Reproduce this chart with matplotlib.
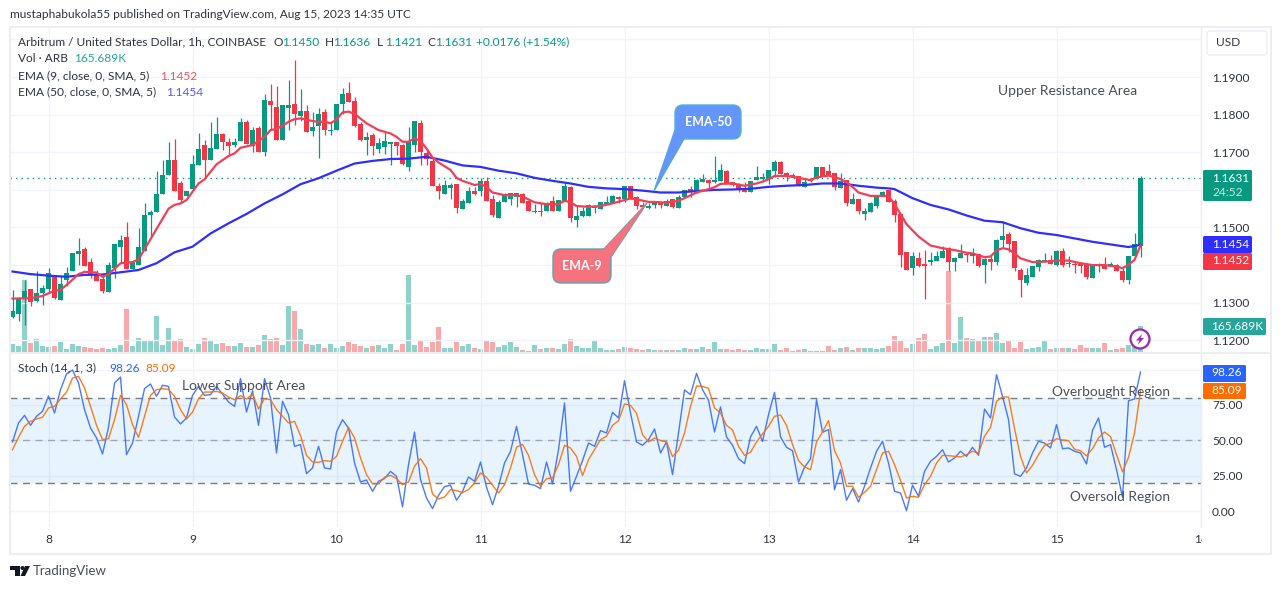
import matplotlib
matplotlib.use("Agg")
import matplotlib.pyplot as plt
from matplotlib.patches import Circle, FancyBboxPatch, Polygon, Rectangle
from matplotlib.transforms import Bbox

plt.rcParams['font.family'] = ['Lato', 'DejaVu Sans']

W, H = 1281, 589
UP = '#089981'
DOWN = '#f23645'
GRID = '#f0f3fa'
FRAME = '#eceef4'
TEXT = '#2f333d'
NOTE = '#4a4e58'

# hourly bars, first one is Aug 7 18:00
bar_open = [
    1.1262, 1.1270, 1.1313, 1.1336, 1.1305, 1.1325, 1.1337, 1.1368, 1.1308, 1.1360,
    1.1384, 1.1430, 1.1443, 1.1408, 1.1376, 1.1364, 1.1329, 1.1393, 1.1448, 1.1474,
    1.1390, 1.1400, 1.1437, 1.1533, 1.1540, 1.1589, 1.1639, 1.1679, 1.1617, 1.1584,
    1.1602, 1.1666, 1.1719, 1.1679, 1.1709, 1.1748, 1.1727, 1.1719, 1.1730, 1.1780,
    1.1717, 1.1764, 1.1702, 1.1836, 1.1820, 1.1733, 1.1818, 1.1828, 1.1796, 1.1809,
    1.1757, 1.1770, 1.1807, 1.1757, 1.1759, 1.1828, 1.1857, 1.1835, 1.1774, 1.1733,
    1.1746, 1.1709, 1.1715, 1.1723, 1.1727, 1.1719, 1.1661, 1.1720, 1.1779, 1.1697,
    1.1676, 1.1610, 1.1589, 1.1606, 1.1616, 1.1549, 1.1565, 1.1596, 1.1597, 1.1624,
    1.1576, 1.1526, 1.1568, 1.1576, 1.1582, 1.1588, 1.1571, 1.1541, 1.1544, 1.1544,
    1.1571, 1.1544, 1.1570, 1.1608, 1.1520, 1.1531, 1.1531, 1.1551, 1.1549, 1.1562,
    1.1564, 1.1580, 1.1576, 1.1610, 1.1581, 1.1559, 1.1552, 1.1559, 1.1565, 1.1557,
    1.1575, 1.1552, 1.1581, 1.1602, 1.1593, 1.1621, 1.1626, 1.1621, 1.1623, 1.1649,
    1.1620, 1.1615, 1.1600, 1.1595, 1.1626, 1.1629, 1.1629, 1.1650, 1.1674, 1.1644,
    1.1639, 1.1637, 1.1608, 1.1628, 1.1630, 1.1661, 1.1649, 1.1644, 1.1606, 1.1625,
    1.1563, 1.1576, 1.1537, 1.1541, 1.1557, 1.1584, 1.1600, 1.1571, 1.1536, 1.1435,
    1.1393, 1.1419, 1.1402, 1.1408, 1.1410, 1.1419, 1.1445, 1.1408, 1.1419, 1.1430,
    1.1423, 1.1429, 1.1400, 1.1416, 1.1407, 1.1467, 1.1483, 1.1464, 1.1387, 1.1352,
    1.1369, 1.1396, 1.1411, 1.1414, 1.1401, 1.1438, 1.1402, 1.1403, 1.1402, 1.1400,
    1.1367, 1.1400, 1.1400, 1.1397, 1.1400, 1.1385, 1.1361, 1.1423, 1.1450,
]
bar_high = [
    1.1334, 1.1316, 1.1360, 1.1336, 1.1385, 1.1347, 1.1392, 1.1369, 1.1375, 1.1396,
    1.1433, 1.1471, 1.1449, 1.1418, 1.1387, 1.1374, 1.1407, 1.1456, 1.1480, 1.1514,
    1.1409, 1.1498, 1.1564, 1.1546, 1.1651, 1.1679, 1.1726, 1.1735, 1.1624, 1.1597,
    1.1693, 1.1750, 1.1733, 1.1781, 1.1795, 1.1750, 1.1739, 1.1739, 1.1790, 1.1786,
    1.1766, 1.1770, 1.1855, 1.1881, 1.1877, 1.1825, 1.1892, 1.1945, 1.1867, 1.1825,
    1.1808, 1.1817, 1.1814, 1.1777, 1.1828, 1.1870, 1.1887, 1.1846, 1.1781, 1.1753,
    1.1752, 1.1737, 1.1755, 1.1727, 1.1727, 1.1721, 1.1768, 1.1783, 1.1787, 1.1708,
    1.1686, 1.1617, 1.1626, 1.1617, 1.1616, 1.1577, 1.1608, 1.1608, 1.1631, 1.1635,
    1.1586, 1.1573, 1.1591, 1.1591, 1.1591, 1.1593, 1.1575, 1.1562, 1.1564, 1.1568,
    1.1584, 1.1573, 1.1617, 1.1610, 1.1557, 1.1555, 1.1562, 1.1557, 1.1568, 1.1584,
    1.1586, 1.1584, 1.1610, 1.1610, 1.1584, 1.1568, 1.1564, 1.1571, 1.1568, 1.1577,
    1.1577, 1.1586, 1.1599, 1.1610, 1.1628, 1.1642, 1.1628, 1.1690, 1.1670, 1.1654,
    1.1622, 1.1619, 1.1622, 1.1624, 1.1663, 1.1644, 1.1653, 1.1679, 1.1677, 1.1648,
    1.1646, 1.1637, 1.1628, 1.1631, 1.1661, 1.1661, 1.1670, 1.1644, 1.1644, 1.1626,
    1.1591, 1.1576, 1.1551, 1.1568, 1.1586, 1.1598, 1.1601, 1.1577, 1.1536, 1.1435,
    1.1436, 1.1436, 1.1440, 1.1435, 1.1438, 1.1451, 1.1449, 1.1422, 1.1456, 1.1431,
    1.1445, 1.1429, 1.1418, 1.1427, 1.1470, 1.1517, 1.1488, 1.1464, 1.1393, 1.1393,
    1.1398, 1.1416, 1.1431, 1.1427, 1.1439, 1.1445, 1.1423, 1.1409, 1.1407, 1.1405,
    1.1401, 1.1405, 1.1421, 1.1409, 1.1403, 1.1392, 1.1424, 1.1485, 1.1636,
]
bar_low = [
    1.1260, 1.1251, 1.1241, 1.1291, 1.1303, 1.1294, 1.1327, 1.1311, 1.1308, 1.1344,
    1.1384, 1.1400, 1.1397, 1.1366, 1.1358, 1.1327, 1.1329, 1.1366, 1.1405, 1.1390,
    1.1390, 1.1400, 1.1437, 1.1476, 1.1540, 1.1589, 1.1639, 1.1597, 1.1564, 1.1584,
    1.1602, 1.1666, 1.1631, 1.1679, 1.1709, 1.1706, 1.1693, 1.1713, 1.1730, 1.1723,
    1.1702, 1.1702, 1.1690, 1.1763, 1.1733, 1.1733, 1.1759, 1.1772, 1.1784, 1.1755,
    1.1744, 1.1684, 1.1746, 1.1746, 1.1759, 1.1803, 1.1834, 1.1766, 1.1731, 1.1693,
    1.1693, 1.1697, 1.1695, 1.1666, 1.1693, 1.1665, 1.1651, 1.1702, 1.1666, 1.1666,
    1.1610, 1.1577, 1.1589, 1.1576, 1.1539, 1.1549, 1.1565, 1.1586, 1.1584, 1.1571,
    1.1527, 1.1526, 1.1568, 1.1560, 1.1554, 1.1566, 1.1544, 1.1539, 1.1531, 1.1544,
    1.1544, 1.1544, 1.1570, 1.1515, 1.1502, 1.1529, 1.1531, 1.1539, 1.1549, 1.1562,
    1.1564, 1.1566, 1.1568, 1.1576, 1.1548, 1.1554, 1.1548, 1.1553, 1.1553, 1.1557,
    1.1552, 1.1552, 1.1581, 1.1582, 1.1593, 1.1621, 1.1604, 1.1617, 1.1623, 1.1617,
    1.1611, 1.1594, 1.1595, 1.1595, 1.1626, 1.1622, 1.1615, 1.1635, 1.1642, 1.1624,
    1.1633, 1.1611, 1.1608, 1.1622, 1.1630, 1.1637, 1.1637, 1.1600, 1.1606, 1.1557,
    1.1563, 1.1537, 1.1520, 1.1541, 1.1553, 1.1584, 1.1568, 1.1515, 1.1396, 1.1387,
    1.1374, 1.1396, 1.1310, 1.1400, 1.1410, 1.1419, 1.1384, 1.1384, 1.1419, 1.1409,
    1.1405, 1.1396, 1.1352, 1.1387, 1.1401, 1.1449, 1.1436, 1.1385, 1.1316, 1.1347,
    1.1369, 1.1385, 1.1411, 1.1403, 1.1398, 1.1396, 1.1396, 1.1378, 1.1378, 1.1363,
    1.1367, 1.1381, 1.1390, 1.1397, 1.1385, 1.1356, 1.1350, 1.1423, 1.1421,
]
bar_close = [
    1.1278, 1.1309, 1.1330, 1.1303, 1.1326, 1.1339, 1.1379, 1.1312, 1.1350, 1.1379,
    1.1433, 1.1437, 1.1397, 1.1374, 1.1358, 1.1331, 1.1399, 1.1456, 1.1468, 1.1390,
    1.1409, 1.1448, 1.1533, 1.1542, 1.1589, 1.1639, 1.1679, 1.1597, 1.1573, 1.1597,
    1.1669, 1.1709, 1.1679, 1.1711, 1.1748, 1.1728, 1.1717, 1.1727, 1.1780, 1.1723,
    1.1759, 1.1702, 1.1839, 1.1826, 1.1733, 1.1825, 1.1825, 1.1802, 1.1809, 1.1755,
    1.1766, 1.1803, 1.1759, 1.1759, 1.1828, 1.1855, 1.1834, 1.1770, 1.1733, 1.1740,
    1.1717, 1.1725, 1.1730, 1.1727, 1.1717, 1.1669, 1.1730, 1.1783, 1.1702, 1.1681,
    1.1610, 1.1597, 1.1613, 1.1613, 1.1552, 1.1570, 1.1597, 1.1588, 1.1624, 1.1571,
    1.1533, 1.1568, 1.1586, 1.1591, 1.1591, 1.1566, 1.1544, 1.1544, 1.1540, 1.1564,
    1.1544, 1.1573, 1.1610, 1.1526, 1.1531, 1.1544, 1.1560, 1.1557, 1.1568, 1.1568,
    1.1584, 1.1577, 1.1610, 1.1576, 1.1558, 1.1555, 1.1556, 1.1566, 1.1559, 1.1570,
    1.1554, 1.1580, 1.1599, 1.1598, 1.1625, 1.1629, 1.1618, 1.1625, 1.1653, 1.1617,
    1.1614, 1.1600, 1.1595, 1.1623, 1.1634, 1.1633, 1.1653, 1.1674, 1.1642, 1.1635,
    1.1633, 1.1611, 1.1621, 1.1624, 1.1661, 1.1637, 1.1640, 1.1607, 1.1623, 1.1565,
    1.1575, 1.1543, 1.1544, 1.1564, 1.1583, 1.1594, 1.1568, 1.1533, 1.1427, 1.1387,
    1.1424, 1.1398, 1.1398, 1.1414, 1.1424, 1.1437, 1.1408, 1.1419, 1.1432, 1.1427,
    1.1430, 1.1398, 1.1416, 1.1407, 1.1467, 1.1478, 1.1456, 1.1393, 1.1361, 1.1374,
    1.1398, 1.1414, 1.1414, 1.1403, 1.1438, 1.1400, 1.1405, 1.1400, 1.1398, 1.1368,
    1.1401, 1.1401, 1.1390, 1.1402, 1.1385, 1.1361, 1.1423, 1.1456, 1.1631,
]
volume_k = [
    49, 37, 467, 56, 82, 37, 32, 37, 62, 17,
    49, 37, 32, 24, 17, 24, 17, 24, 43, 275,
    37, 88, 69, 69, 230, 43, 153, 69, 82, 32,
    22, 49, 88, 75, 49, 56, 37, 37, 56, 30,
    30, 43, 108, 82, 88, 43, 295, 262, 146, 49,
    43, 49, 26, 52, 26, 39, 65, 52, 39, 26,
    39, 45, 26, 52, 13, 52, 497, 45, 77, 32,
    65, 161, 26, 26, 65, 39, 52, 26, 19, 71,
    65, 32, 45, 65, 32, 13, 6, 45, 19, 26,
    26, 19, 52, 84, 39, 26, 26, 71, 26, 13,
    13, 19, 32, 26, 19, 13, 19, 13, 13, 13,
    13, 13, 26, 19, 19, 32, 19, 65, 19, 19,
    13, 19, 13, 13, 26, 19, 19, 52, 13, 26,
    6, 13, 19, 6, 6, 6, 39, 13, 26, 32,
    13, 26, 26, 26, 19, 26, 39, 103, 71, 26,
    52, 90, 116, 19, 39, 58, 522, 58, 228, 90,
    84, 77, 97, 97, 123, 58, 71, 26, 65, 19,
    26, 32, 77, 19, 26, 26, 26, 19, 45, 26,
    26, 26, 58, 13, 19, 26, 45, 39, 165.689,
]
stoch_k = [
    48.9, 62.3, 67.7, 60.6, 67.0, 70.5, 81.3, 69.3, 85.8, 96.9,
    99.7, 90.5, 71.7, 58.7, 51.7, 40.4, 59.2, 90.5, 94.7, 39.9,
    48.1, 67.0, 86.5, 89.8, 81.1, 88.9, 88.1, 66.5, 61.6, 65.8,
    81.8, 88.1, 81.8, 82.3, 88.1, 82.7, 77.1, 74.0, 93.6, 70.0,
    85.1, 60.6, 93.6, 79.9, 41.1, 77.6, 68.1, 45.8, 47.0, 26.5,
    30.5, 45.8, 30.5, 29.8, 55.9, 64.6, 58.7, 34.0, 20.6, 22.0,
    14.0, 21.1, 23.0, 28.1, 24.6, 3.0, 32.9, 55.9, 22.3, 9.3,
    1.8, 11.2, 17.3, 18.3, 7.7, 14.0, 24.1, 21.1, 34.7, 16.9,
    4.6, 17.6, 34.0, 42.3, 59.9, 39.9, 19.2, 18.3, 15.9, 34.7,
    19.2, 43.4, 76.4, 14.0, 24.6, 35.7, 48.1, 45.8, 56.9, 55.2,
    69.8, 65.8, 92.1, 69.3, 48.9, 46.5, 50.5, 58.0, 41.1, 48.9,
    25.8, 55.2, 85.6, 82.3, 97.3, 85.8, 78.3, 55.9, 73.6, 52.4,
    46.5, 37.1, 33.6, 52.4, 59.9, 49.3, 68.1, 83.9, 52.4, 45.1,
    42.7, 20.6, 31.0, 36.9, 78.7, 55.7, 57.6, 15.2, 29.3, 7.7,
    15.9, 6.5, 17.6, 30.5, 42.3, 49.3, 34.0, 14.0, 12.8, 0.4,
    18.3, 10.5, 28.1, 35.2, 38.7, 43.4, 34.7, 37.6, 42.3, 38.7,
    45.1, 39.4, 72.1, 65.8, 96.4, 81.1, 64.6, 26.3, 24.6, 30.5,
    41.1, 49.3, 48.1, 44.6, 61.1, 44.1, 44.6, 42.3, 41.1, 33.3,
    57.1, 65.8, 45.1, 47.0, 29.3, 9.8, 78.0, 79.2, 98.26,
]
stoch_d = [
    43.4, 52.1, 59.9, 63.4, 65.1, 66.3, 72.9, 74.0, 79.2, 84.1,
    94.0, 95.2, 87.0, 74.0, 60.6, 50.5, 51.2, 64.6, 81.8, 75.2,
    61.1, 52.1, 67.0, 81.8, 85.8, 86.5, 86.0, 81.1, 71.7, 65.1,
    70.0, 79.4, 84.1, 84.1, 84.6, 83.4, 80.6, 78.7, 81.6, 79.2,
    82.7, 72.1, 79.4, 78.7, 71.7, 67.0, 62.3, 63.4, 53.3, 39.4,
    34.7, 34.5, 35.7, 35.2, 38.7, 49.3, 59.2, 51.7, 37.6, 25.8,
    19.2, 19.4, 23.9, 25.3, 23.0, 18.7, 20.6, 31.7, 37.1, 30.5,
    12.1, 8.6, 10.0, 15.2, 14.5, 13.1, 15.2, 19.9, 27.0, 23.9,
    18.3, 12.8, 18.7, 30.5, 45.1, 47.2, 39.4, 25.8, 17.6, 23.0,
    23.4, 32.9, 46.5, 44.6, 38.7, 25.1, 36.4, 43.4, 50.5, 52.9,
    60.6, 63.9, 75.7, 74.7, 69.1, 54.0, 48.9, 51.7, 49.8, 48.9,
    38.5, 43.0, 55.2, 74.0, 88.4, 88.1, 86.7, 72.9, 69.3, 60.6,
    57.3, 45.8, 39.4, 41.6, 48.9, 54.5, 59.9, 67.0, 67.9, 60.6,
    47.0, 35.7, 31.2, 29.3, 48.9, 55.9, 63.9, 42.7, 34.0, 17.6,
    17.6, 9.8, 13.3, 17.6, 29.3, 41.1, 42.3, 32.9, 21.6, 9.3,
    10.5, 9.8, 18.7, 24.6, 34.0, 39.4, 39.2, 38.7, 38.3, 39.9,
    42.3, 41.1, 52.9, 59.2, 77.6, 80.6, 80.6, 58.3, 38.7, 27.0,
    32.4, 39.9, 46.5, 47.9, 51.2, 50.3, 49.8, 43.7, 42.7, 39.0,
    44.1, 51.7, 55.9, 52.6, 39.9, 27.7, 38.0, 55.2, 85.09,
]

# moving averages, read at the bars listed next to them
ema50_bars = [
    0, 3, 6, 9, 12, 15, 18, 21, 24, 27, 30, 33, 36, 39, 42, 45, 48, 51, 54, 57,
    60, 63, 66, 69, 72, 75, 78, 81, 84, 87, 90, 93, 96, 99, 102, 105, 108, 111,
    114, 117, 120, 123, 126, 129, 132, 135, 138, 141, 144, 146, 147, 150, 153,
    156, 159, 162, 165, 168, 171, 174, 177, 180, 183, 186, 187, 188,
]
ema50 = [
    1.1383, 1.1376, 1.1372, 1.1369, 1.1374, 1.1375, 1.1381, 1.1387, 1.1405, 1.1434,
    1.1449, 1.1484, 1.1511, 1.1536, 1.1564, 1.1588, 1.1615, 1.1631, 1.1651, 1.1670,
    1.1677, 1.1682, 1.1683, 1.1688, 1.1678, 1.1665, 1.1661, 1.1651, 1.1644, 1.1632,
    1.1624, 1.1617, 1.1608, 1.1604, 1.1602, 1.1598, 1.1593, 1.1593, 1.1597, 1.1600,
    1.1601, 1.1603, 1.1608, 1.1611, 1.1613, 1.1617, 1.1617, 1.1611, 1.1606, 1.1604,
    1.1602, 1.1578, 1.1560, 1.1548, 1.1532, 1.1518, 1.1514, 1.1498, 1.1486, 1.1480,
    1.1471, 1.1462, 1.1455, 1.1448, 1.1451, 1.1454,
]
ema9_bars = [
    0, 3, 5, 7, 8, 9, 11, 12, 14, 15, 16, 17, 18, 20, 21, 22, 24, 26, 27, 28,
    29, 30, 31, 32, 33, 34, 36, 37, 38, 40, 42, 43, 44, 45, 46, 47, 48, 50, 51, 52,
    53, 54, 55, 56, 57, 59, 61, 63, 64, 65, 66, 67, 68, 69, 70, 71, 73, 74, 75, 77,
    78, 79, 80, 82, 84, 85, 87, 89, 91, 92, 93, 94, 96, 98, 100, 102, 103, 104, 106,
    107, 109, 111, 112, 114, 116, 117, 118, 120, 122, 124, 125, 126, 127, 129, 131,
    133, 134, 136, 138, 139, 140, 141, 143, 145, 146, 147, 148, 149, 151, 153, 155,
    157, 159, 160, 162, 163, 164, 165, 166, 167, 168, 170, 172, 174, 176, 178, 180,
    182, 184, 185, 186, 187, 188,
]
ema9 = [
    1.1311, 1.1312, 1.1318, 1.1332, 1.1334, 1.1347, 1.1376, 1.1382, 1.1380, 1.1369,
    1.1376, 1.1390, 1.1405, 1.1408, 1.1415, 1.1442, 1.1496, 1.1550, 1.1560, 1.1564,
    1.1573, 1.1595, 1.1617, 1.1628, 1.1648, 1.1668, 1.1690, 1.1697, 1.1712, 1.1719,
    1.1741, 1.1759, 1.1762, 1.1770, 1.1781, 1.1788, 1.1790, 1.1783, 1.1781, 1.1781,
    1.1777, 1.1787, 1.1806, 1.1808, 1.1802, 1.1777, 1.1759, 1.1750, 1.1741, 1.1728,
    1.1728, 1.1737, 1.1730, 1.1710, 1.1686, 1.1673, 1.1653, 1.1632, 1.1624, 1.1613,
    1.1616, 1.1608, 1.1593, 1.1586, 1.1586, 1.1582, 1.1567, 1.1562, 1.1562, 1.1571,
    1.1567, 1.1557, 1.1555, 1.1557, 1.1564, 1.1573, 1.1577, 1.1575, 1.1568,
    1.1568, 1.1566, 1.1571, 1.1578, 1.1593, 1.1602, 1.1607, 1.1616, 1.1617, 1.1611,
    1.1617, 1.1622, 1.1628, 1.1637, 1.1637, 1.1632,
    1.1626, 1.1633, 1.1638, 1.1629, 1.1620, 1.1608, 1.1593, 1.1584, 1.1584, 1.1584,
    1.1562, 1.1536, 1.1509, 1.1476, 1.1452, 1.1445,
    1.1440, 1.1433, 1.1431, 1.1421, 1.1423, 1.1439, 1.1445, 1.1442, 1.1431, 1.1418,
    1.1408, 1.1409, 1.1412, 1.1412, 1.1405, 1.1400,
    1.1400, 1.1396, 1.1392, 1.1401, 1.1414, 1.1452,
]

day_labels = ['8', '9', '10', '11', '12', '13', '14', '15', '16']
price_ticks = [1.12, 1.13, 1.14, 1.15, 1.16, 1.17, 1.18, 1.19, 1.20]
price_tick_labels = ['1.1200', '1.1300', '', '1.1500', '', '1.1700', '1.1800', '1.1900', '']
stoch_ticks = [0, 25, 50, 75, 100]
stoch_tick_labels = ['0.00', '25.00', '50.00', '75.00', '']
last_close = 1.1631


def px_axes(left, top, right, bottom):
    return [left / W, 1 - bottom / H, (right - left) / W, (bottom - top) / H]


fig = plt.figure(figsize=(W / 100, H / 100), dpi=100, facecolor='white')

hours = [i - 6 for i in range(len(bar_close))]   # hours since Aug 8 00:00
day_ticks = [24 * i for i in range(len(day_labels))]
xlim = (-6.42, 192.08)

# price panel
ax_vol = fig.add_axes(px_axes(10, 27, 1201, 352))
ax = fig.add_axes(px_axes(10, 27, 1201, 352), sharex=ax_vol)
ax.patch.set_alpha(0)
ax_vol.set_zorder(1)
ax.set_zorder(2)

rising = [c >= o for o, c in zip(bar_open, bar_close)]
ax_vol.bar(hours, volume_k, width=0.84, linewidth=0,
           color=['#8fd2c9' if r else '#f8a9ac' for r in rising])
ax_vol.set_ylim(0, 2097)
ax_vol.set_yticks([])
ax_vol.tick_params(bottom=False, labelbottom=False)
for s in ax_vol.spines.values():
    s.set_visible(False)

colors = [UP if r else DOWN for r in rising]
ax.vlines(hours, bar_low, bar_high, colors=colors, linewidth=0.9, zorder=3)
ax.bar(hours, [abs(c - o) for o, c in zip(bar_open, bar_close)],
       bottom=[min(o, c) for o, c in zip(bar_open, bar_close)],
       width=0.84, color=colors, linewidth=0, zorder=4)
ax.plot([b - 6 for b in ema50_bars], ema50, color='#2e2eff', lw=1.6, zorder=5)
ax.plot([b - 6 for b in ema9_bars], ema9, color='#f23f55', lw=1.6, zorder=6)
ax.axhline(last_close, color=UP, lw=1, ls=(0, (1, 3)), zorder=2)

ax.set_xlim(*xlim)
ax.set_ylim(1.1169, 1.2033)
ax.set_yticks(price_ticks, price_tick_labels)
ax.yaxis.tick_right()
ax.tick_params(axis='y', length=0, labelsize=8.6, labelcolor=TEXT, pad=8)
ax.tick_params(axis='x', bottom=False, labelbottom=False)
ax.set_xticks(day_ticks)
ax.grid(True, color=GRID, lw=1, zorder=0)
ax.set_axisbelow(True)
ax_vol.set_xlim(*xlim)
for s in ax.spines.values():
    s.set_visible(False)

# stochastic panel
ax2 = fig.add_axes(px_axes(10, 353, 1201, 527))
ax2.axhspan(20, 80, color='#2196f3', alpha=0.1, lw=0, zorder=1)
ax2.axhline(80, color='#787b86', lw=1, ls=(0, (5, 4)), zorder=2)
ax2.axhline(50, color='#787b86', lw=1, ls=(0, (5, 4)), alpha=0.6, zorder=2)
ax2.axhline(20, color='#787b86', lw=1, ls=(0, (5, 4)), zorder=2)
ax2.plot(hours, stoch_k, color='#2962ff', lw=1, alpha=0.85, zorder=3)
ax2.plot(hours, stoch_d, color='#ff6d00', lw=1, alpha=0.9, zorder=4)
ax2.set_xlim(*xlim)
ax2.set_ylim(-11.2, 111.7)
ax2.set_yticks(stoch_ticks, stoch_tick_labels)
ax2.yaxis.tick_right()
ax2.tick_params(axis='y', length=0, labelsize=8.6, labelcolor=TEXT, pad=8)
ax2.set_xticks(day_ticks, day_labels)
ax2.tick_params(axis='x', length=0, labelsize=8.6, labelcolor=TEXT, pad=5)
ax2.grid(True, color=GRID, lw=1, zorder=0)
ax2.set_axisbelow(True)
for s in ax2.spines.values():
    s.set_visible(False)
# the time axis cuts its last label off at the price scale
for lbl in ax2.get_xticklabels():
    lbl.set_clip_box(Bbox.from_extents(0, 0, 1202, H))
    lbl.set_clip_on(True)

# everything around the panels, in image pixels
ov = fig.add_axes([0, 0, 1, 1], zorder=10)
ov.set_xlim(0, W)
ov.set_ylim(H, 0)
ov.axis('off')


def label(x, y, s, color=TEXT, size=8.6, ha='left', **kw):
    ov.text(x, y, s, color=color, fontsize=size, ha=ha, va='center', **kw)


def price_box(x0, y0, x1, y1, color):
    ov.add_patch(FancyBboxPatch((x0 + 1, y0 + 1), x1 - x0 - 2, y1 - y0 - 2,
                                boxstyle='round,pad=1,rounding_size=1.5',
                                fc=color, ec='none', zorder=3))


def callout(box, tail, fill, edge, text):
    x0, y0, x1, y1 = box
    ov.add_patch(Polygon(tail, closed=True, fc=fill, ec=edge, lw=1, zorder=4))
    ov.add_patch(FancyBboxPatch((x0 + 8, y0 + 8), x1 - x0 - 16, y1 - y0 - 16,
                                boxstyle='round,pad=8,rounding_size=8',
                                fc=fill, ec=edge, lw=1, zorder=4))
    ov.add_patch(Polygon(tail, closed=True, fc=fill, ec='none', zorder=4))
    label((x0 + x1) / 2, (y0 + y1) / 2, text, color='white', size=9, ha='center',
          zorder=5, fontweight='bold')


ov.add_patch(Rectangle((9.5, 26.5), 1261, 527, fc='none', ec=FRAME, lw=1.5))
ov.add_line(plt.Line2D([10, 1270], [352.5, 352.5], color=FRAME, lw=1.5))
ov.add_line(plt.Line2D([1201, 1201], [27, 527], color=FRAME, lw=1))

label(10, 15, 'mustaphabukola55 published on TradingView.com, Aug 15, 2023 14:35 UTC')

label(18, 42, 'Arbitrum / United States Dollar, 1h, COINBASE')
for x, name, val in [(274, 'O', '1.1450'), (325, 'H', '1.1636'),
                     (377, 'L', '1.1421'), (427, 'C', '1.1631')]:
    label(x, 42, name)
    label(x + 8, 42, val, color=UP)
label(476, 42, '+0.0176 (+1.54%)', color=UP)
label(18, 59, 'Vol · ARB')
label(74, 59, '165.689K', color='#26a69a')
label(18, 76, 'EMA (9, close, 0, SMA, 5)')
label(160, 76, '1.1452', color='#f4515f')
label(18, 92, 'EMA (50, close, 0, SMA, 5)')
label(166, 92, '1.1454', color='#5555ff')
label(18, 368, 'Stoch (14, 1, 3)')
label(109, 368, '98.26', color='#2962ff')
label(145, 368, '85.09', color='#ff6d00')

label(998, 91, 'Upper Resistance Area', color=NOTE, size=10)
label(182, 386, 'Lower Support Area', color=NOTE, size=10)
label(1170, 392, 'Overbought Region', color=NOTE, size=9.8, ha='right')
label(1170, 497, 'Oversold Region', color=NOTE, size=9.8, ha='right')

callout((675, 105, 741, 139), [(675, 130), (654, 191), (684, 139)],
        '#6495fb', '#55b4c8', 'EMA-50')
callout((553, 249, 611, 283), [(603, 250), (647, 203), (611, 257)],
        '#f5737f', '#5aa5b0', 'EMA-9')

ov.add_patch(FancyBboxPatch((1209, 33), 56, 20, boxstyle='round,pad=2,rounding_size=3',
                            fc='white', ec=FRAME, lw=1))
label(1216, 43, 'USD')

price_box(1203, 170, 1252, 201, UP)
label(1212, 178, '1.1631', color='white')
label(1212, 193, '24:52', color='#c8e8e2')
price_box(1203, 236, 1252, 253, '#2e2eff')
label(1212, 245, '1.1454', color='white')
price_box(1203, 253, 1252, 270, DOWN)
label(1212, 261, '1.1452', color='white')
price_box(1203, 318, 1266, 335, '#26a69a')
label(1211, 326, '165.689K', color='white')
price_box(1203, 365, 1246, 382, '#2962ff')
label(1211, 373, '98.26', color='white')
price_box(1203, 383, 1246, 399, '#ff6d00')
label(1211, 391, '85.09', color='white')

ov.add_patch(Circle((1140, 339), 9.5, fc='white', ec='#9c27b0', lw=1.6))
ov.add_patch(Polygon([(1142.5, 333.5), (1136, 340.5), (1139.5, 340.5), (1137.5, 345),
                      (1144, 338), (1140.5, 338)], closed=True, fc='#9c27b0', ec='none'))

ov.add_patch(Polygon([(10, 566), (20, 566), (20, 576), (15, 576), (15, 570), (10, 570)],
                     closed=True, fc='#131722', ec='none'))
ov.add_patch(Circle((22.5, 568), 2, fc='#131722', ec='none'))
ov.add_patch(Polygon([(25, 566), (30, 566), (25, 576), (20.5, 576)],
                     closed=True, fc='#131722', ec='none'))
label(33, 571, 'TradingView', color=NOTE, size=9.5)

fig.savefig('out.png', dpi=100, facecolor='white')
